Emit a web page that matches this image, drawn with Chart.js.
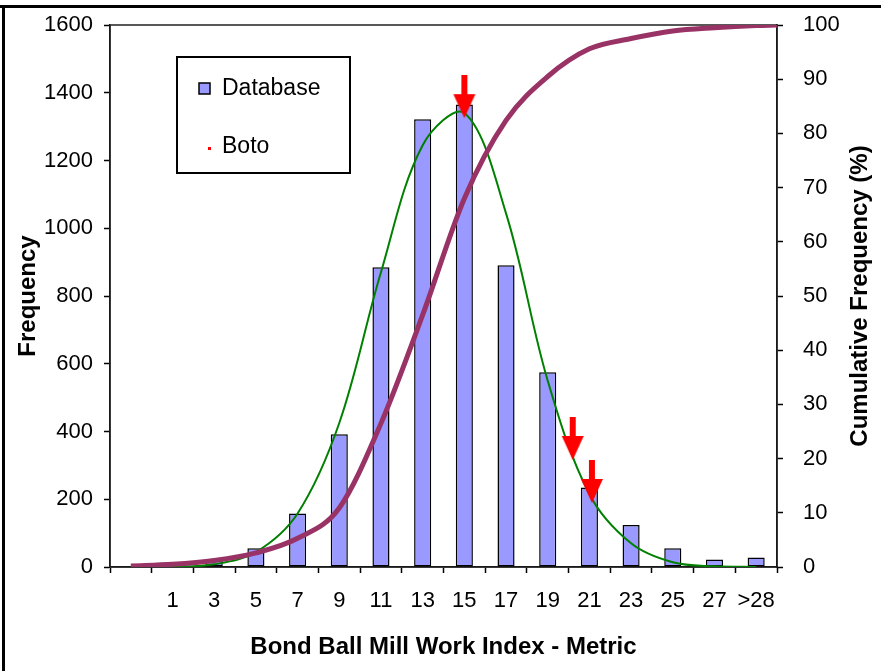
<!DOCTYPE html>
<html>
<head>
<meta charset="utf-8">
<script src="https://cdn.jsdelivr.net/npm/chart.js@4.4.1/dist/chart.umd.min.js"></script>
<style>
    html, body { margin: 0; padding: 0; background: #fff; }
    #wrap { position: relative; width: 881px; height: 671px; }
</style>
</head>
<body>
<div id="wrap"><canvas id="chart" width="881" height="671"></canvas></div>
<script>
// Bins of the Bond ball mill work index histogram
const categories = ['', '1', '3', '5', '7', '9', '11', '13', '15', '17', '19', '21', '23', '25', '27', '>28'];
const frequency = [0, 2, 22, 55, 158, 392, 885, 1322, 1365, 891, 575, 235, 124, 55, 22, 28];
const normalFit = [0, 1, 8, 44, 158, 425, 870, 1245, 1340, 1044, 550, 215, 70, 14, 2, 0];

// Cumulative curve, positions given as bin index
const cumulativeX = [0, 1, 2, 3, 4, 5, 6, 7, 8, 9, 10, 11, 12, 13, 14, 15, 15.5];
const cumulative = [0.2, 0.5, 1.2, 2.6, 5.3, 10.9, 26.5, 46.5, 68, 82.4, 90.5, 95.6, 97.5, 98.9, 99.5, 99.9, 100];

// Boto samples (red arrows)
const botoX = [8, 10.6, 11.06];
const botoY = [1325, 316, 189];

const freqTicks = [0, 1600, 200];
const cumTicks = [0, 100, 10];

const FONT = '"Liberation Sans", Arial, sans-serif';

function makeArrow() {
    const c = document.createElement('canvas');
    c.width = 24;
    c.height = 86;
    const g = c.getContext('2d');
    g.fillStyle = '#ff0000';
    g.fillRect(9, 0, 6, 22);
    g.beginPath();
    g.moveTo(1, 19);
    g.lineTo(23, 19);
    g.lineTo(12, 43);
    g.closePath();
    g.fill();
    return c;
}

// keep tick label overflow from pushing the plot area down
function fixWidth(w) {
    return s => {
        s.width = w;
        s.paddingTop = 0;
        s.paddingBottom = 0;
    };
}

const framePlugin = {
    id: 'frame',
    beforeDraw(chart) {
        const ctx = chart.ctx;
        ctx.save();
        ctx.fillStyle = '#000';
        ctx.fillRect(0, 5, chart.width, 3);
        ctx.fillRect(2, 5, 3, chart.height - 5);
        ctx.restore();
    },
    beforeDatasetsDraw(chart) {
        const a = chart.chartArea;
        const ctx = chart.ctx;
        ctx.save();
        ctx.strokeStyle = '#222';
        ctx.lineWidth = 1.5;
        ctx.strokeRect(a.left, a.top, a.right - a.left, a.bottom - a.top);
        ctx.restore();
    },
    afterDraw(chart) {
        const a = chart.chartArea;
        const ctx = chart.ctx;
        ctx.save();
        // right axis title, reading bottom to top
        ctx.translate(860, (a.top + a.bottom) / 2);
        ctx.rotate(-Math.PI / 2);
        ctx.font = 'bold 24px ' + FONT;
        ctx.fillStyle = '#000';
        ctx.textAlign = 'center';
        ctx.textBaseline = 'middle';
        ctx.fillText('Cumulative Frequency (%)', 0, 0);
        ctx.restore();

        // legend box
        const lx = a.left + 67, ly = a.top + 32;
        ctx.save();
        ctx.fillStyle = '#fff';
        ctx.fillRect(lx, ly, 173, 116);
        ctx.strokeStyle = '#000';
        ctx.lineWidth = 2;
        ctx.strokeRect(lx, ly, 173, 116);
        ctx.fillStyle = '#9999ff';
        ctx.fillRect(lx + 22, ly + 26, 11, 11);
        ctx.lineWidth = 1.5;
        ctx.strokeRect(lx + 22, ly + 26, 11, 11);
        ctx.fillStyle = '#ff0000';
        ctx.fillRect(lx + 31, ly + 90, 3, 3);
        ctx.fillStyle = '#000';
        ctx.font = '23px ' + FONT;
        ctx.textBaseline = 'middle';
        ctx.fillText('Database', lx + 45, ly + 32);
        ctx.fillText('Boto', lx + 45, ly + 90);
        ctx.restore();
    }
};

new Chart(document.getElementById('chart'), {
    type: 'bar',
    data: {
        labels: categories,
        datasets: [
            {
                type: 'scatter',
                label: 'Boto',
                xAxisID: 'xb',
                yAxisID: 'y',
                data: botoX.map((x, i) => ({ x: x, y: botoY[i] })),
                pointStyle: makeArrow(),
                pointRadius: 3,
                order: 0
            },
            {
                type: 'line',
                label: 'Cumulative',
                xAxisID: 'xb',
                yAxisID: 'y1',
                data: cumulativeX.map((x, i) => ({ x: x, y: cumulative[i] })),
                borderColor: '#993366',
                borderWidth: 5,
                pointRadius: 0,
                cubicInterpolationMode: 'monotone',
                order: 1
            },
            {
                type: 'line',
                label: 'Normal fit',
                xAxisID: 'x',
                yAxisID: 'y',
                data: normalFit,
                borderColor: '#008000',
                borderWidth: 2,
                pointRadius: 0,
                tension: 0.35,
                order: 2
            },
            {
                label: 'Database',
                xAxisID: 'x',
                yAxisID: 'y',
                data: frequency,
                backgroundColor: '#9999ff',
                borderColor: '#000',
                borderWidth: 1.5,
                borderSkipped: false,
                grouped: false,
                barPercentage: 0.41,
                categoryPercentage: 1,
                order: 3
            }
        ]
    },
    options: {
        responsive: false,
        animation: false,
        layout: { autoPadding: false, padding: { top: 25, left: 0, right: 0, bottom: 0 } },
        plugins: {
            legend: { display: false },
            tooltip: { enabled: false }
        },
        scales: {
            x: {
                type: 'category',
                offset: true,
                grid: { offset: true, drawOnChartArea: false, tickLength: 6, tickColor: '#000', tickWidth: 1.5 },
                border: { color: '#000', width: 1.5 },
                ticks: { color: '#000', font: { family: FONT, size: 22 }, padding: 15, maxRotation: 0, autoSkip: false },
                title: {
                    display: true,
                    text: 'Bond Ball Mill Work Index - Metric',
                    color: '#000',
                    font: { family: FONT, size: 24, weight: 'bold' },
                    padding: { top: 0, bottom: 9 }
                },
                afterFit: s => { s.height = 104; }
            },
            xb: {
                type: 'linear',
                position: 'bottom',
                display: false,
                offset: false,
                grid: { offset: false },
                min: -0.5,
                max: 15.5
            },
            y: {
                position: 'left',
                min: freqTicks[0],
                max: freqTicks[1],
                grid: { drawOnChartArea: false, tickLength: 6, tickColor: '#000', tickWidth: 1.5 },
                border: { color: '#000', width: 1.5 },
                ticks: { stepSize: freqTicks[2], color: '#000', font: { family: FONT, size: 22 }, padding: 11, callback: v => String(v) },
                title: {
                    display: true,
                    text: 'Frequency',
                    color: '#000',
                    font: { family: FONT, size: 24, weight: 'bold' },
                    padding: { top: 14, bottom: 0 }
                },
                afterFit: fixWidth(110)
            },
            y1: {
                position: 'right',
                min: cumTicks[0],
                max: cumTicks[1],
                grid: { drawOnChartArea: false, tickLength: 6, tickColor: '#000', tickWidth: 1.5 },
                border: { color: '#000', width: 1.5 },
                ticks: { stepSize: cumTicks[2], color: '#000', font: { family: FONT, size: 22 }, padding: 20, callback: v => String(v) },
                afterFit: fixWidth(104)
            }
        }
    },
    plugins: [framePlugin]
});
</script>
</body>
</html>
